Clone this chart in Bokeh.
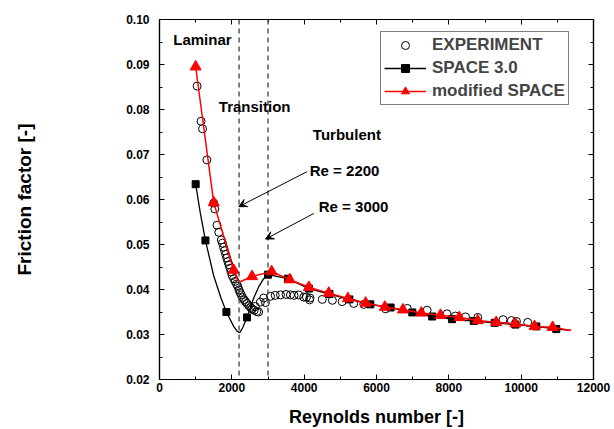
import math
from bokeh.plotting import figure
from bokeh.models import (Range1d, LinearAxis, Span, Arrow, VeeHead, Label, Legend,
                          LegendItem, SingleIntervalTicker, NumeralTickFormatter,
                          CustomJSTickFormatter)
from bokeh.embed import file_html
from bokeh.resources import INLINE

# ---------------- data ----------------
exp_re = [1040, 1150, 1190, 1310, 1500, 1530, 1590, 1640, 1710, 1740, 1770, 1800, 1830,
          1860, 1890, 1920, 1950, 1980, 2010, 2050, 2090, 2130, 2165, 2200, 2230, 2260,
          2300, 2340, 2380, 2420, 2470, 2520, 2560, 2620, 2690, 2740, 2650, 2790, 2930,
          2880, 3070, 3200, 3345, 3500, 3620, 3720, 3850, 3990, 4064, 4160, 4150, 4500,
          4780, 5050, 5370, 5650, 6250, 6850, 7400, 7950, 8180, 8460, 8800, 9500, 9730,
          9870, 10180]
exp_f = [0.0852, 0.0774, 0.0757, 0.0688, 0.0592, 0.0579, 0.0543, 0.0527, 0.0510, 0.0503,
         0.0494, 0.0486, 0.0478, 0.0470, 0.0462, 0.0455, 0.0447, 0.0439, 0.0431, 0.0424,
         0.0418, 0.0412, 0.0407, 0.0399, 0.0393, 0.0388, 0.0382, 0.0377, 0.0373, 0.0369,
         0.0364, 0.0360, 0.0357, 0.0354, 0.0351, 0.0350, 0.0362, 0.0372, 0.0371, 0.0381,
         0.0385, 0.0387, 0.0388, 0.0389, 0.0388, 0.0387, 0.0388, 0.0383, 0.0383, 0.0381,
         0.0377, 0.0378, 0.0376, 0.0373, 0.0369, 0.0367, 0.0357, 0.0358, 0.0354, 0.0346,
         0.0341, 0.0339, 0.0338, 0.0333, 0.0331, 0.0329, 0.0327]

# SPACE 3.0 : markers
sp3_re = [1000, 1270, 1850, 2420, 3000, 3550, 4130, 4700, 5250, 5830, 6390, 6990, 7540,
          8090, 8690, 9270, 9840, 10420, 10970]
sp3_f = [0.0634, 0.0509, 0.0350, 0.0338, 0.0433, 0.0424, 0.0402, 0.0390, 0.0378, 0.0367,
         0.0360, 0.0349, 0.0340, 0.0334, 0.0330, 0.0326, 0.0322, 0.0318, 0.0312]
# SPACE 3.0 : curve
sp3_line_re = [1000, 1130, 1270, 1500, 1700, 1850, 2050, 2150, 2220, 2300, 2420, 2600,
               2750, 2880, 3000, 3550, 4130, 4700, 5250, 5830, 6390, 6990, 7540, 8090,
               8690, 9270, 9840, 10420, 10970, 11380]
sp3_line_f = [0.0634, 0.0569, 0.0509, 0.0430, 0.0381, 0.0350, 0.0318, 0.0307, 0.0304,
              0.0315, 0.0338, 0.0380, 0.0407, 0.0424, 0.0433, 0.0424, 0.0402, 0.0390,
              0.0378, 0.0367, 0.0360, 0.0349, 0.0340, 0.0334, 0.0330, 0.0326, 0.0322,
              0.0318, 0.0312, 0.0309]

# modified SPACE
mod_re = [1000, 1500, 2050, 2560, 3100, 3600, 4130, 4680, 5210, 5700, 6230, 6730, 7240,
          7770, 8290, 8800, 9310, 9840, 10370, 10870]
mod_f = [0.0895, 0.0593, 0.0443, 0.0429, 0.0440, 0.0422, 0.0405, 0.0392, 0.0380, 0.0370,
         0.0361, 0.0355, 0.0348, 0.0343, 0.0338, 0.0331, 0.0327, 0.0324, 0.0318, 0.0316]
mod_line_re = [1000, 1500, 2050, 2200, 2560, 3100, 3600, 4130, 4680, 5210, 5700, 6230,
               6730, 7240, 7770, 8290, 8800, 9310, 9840, 10370, 10870, 11380]
mod_line_f = [0.0895, 0.0593, 0.0443, 0.0416, 0.0429, 0.0440, 0.0422, 0.0405, 0.0392,
              0.0380, 0.0370, 0.0361, 0.0355, 0.0348, 0.0343, 0.0338, 0.0331, 0.0327,
              0.0324, 0.0318, 0.0316, 0.0309]

re_limits = [2200, 3000]
series_names = ["EXPERIMENT", "SPACE 3.0", "modified SPACE"]

FONT = "Liberation Sans"

p = figure(width=614, height=429, x_range=Range1d(0, 12000), y_range=Range1d(0.02, 0.10),
           output_backend="svg", toolbar_location=None,
           min_border_left=159, min_border_right=21, min_border_top=19, min_border_bottom=49)
p.background_fill_color = "white"
p.border_fill_color = "white"
p.outline_line_color = "black"
p.outline_line_width = 1.2
p.xgrid.visible = False
p.ygrid.visible = False

def style_axis(ax):
    ax.axis_line_color = "black"
    ax.axis_line_width = 1.2
    ax.major_tick_in = 5
    ax.major_tick_out = 0
    ax.minor_tick_in = 3
    ax.minor_tick_out = 0
    ax.major_tick_line_color = "black"
    ax.minor_tick_line_color = "black"
    ax.major_label_text_font = FONT
    ax.major_label_text_font_style = "bold"
    ax.major_label_text_font_size = "12px"
    ax.major_label_text_color = "black"
    ax.axis_label_text_font = FONT
    ax.axis_label_text_font_style = "bold"
    ax.axis_label_text_color = "black"

p.xaxis.ticker = SingleIntervalTicker(interval=2000, num_minor_ticks=2)
p.yaxis.ticker = SingleIntervalTicker(interval=0.01, num_minor_ticks=2)
p.yaxis.formatter = NumeralTickFormatter(format="0.00")
style_axis(p.xaxis[0])
style_axis(p.yaxis[0])
p.xaxis.major_label_standoff = 3
p.yaxis.major_label_standoff = 10
p.xaxis.axis_label = "Reynolds number [-]"
p.xaxis.axis_label_text_font_size = "18px"
p.xaxis.axis_label_standoff = 12
p.yaxis.axis_label = "Friction factor [-]"
p.yaxis.axis_label_text_font_size = "19px"
p.yaxis.axis_label_standoff = 88

blank = CustomJSTickFormatter(code="return ''")
top = LinearAxis(ticker=SingleIntervalTicker(interval=2000, num_minor_ticks=2),
                 formatter=blank)
style_axis(top)
top.major_label_standoff = 0
p.add_layout(top, "above")
right = LinearAxis(ticker=SingleIntervalTicker(interval=0.01, num_minor_ticks=2),
                   formatter=blank)
style_axis(right)
right.major_label_standoff = 0
p.add_layout(right, "right")

for r in re_limits:
    p.add_layout(Span(location=r, dimension="height", line_color="#404040",
                      line_dash="5 4", line_width=1.3))

# series
r_exp = p.scatter(exp_re, exp_f, marker="circle", size=8, fill_color=None,
                  line_color="black", line_width=1)
l_sp3 = p.line(sp3_line_re, sp3_line_f, line_color="black", line_width=1.3)
m_sp3 = p.scatter(sp3_re, sp3_f, marker="square", size=7, fill_color="black",
                  line_color="black")
l_mod = p.line(mod_line_re, mod_line_f, line_color="#ff0000", line_width=1.5)
m_mod = p.scatter(mod_re, mod_f, marker="triangle", size=11, fill_color="#ff0000",
                  line_color="#ff0000")

# annotations
def txt(x, y, s):
    p.add_layout(Label(x=x, y=y, text=s, text_align="left", text_baseline="middle",
                       text_font=FONT, text_font_style="bold", text_font_size="15px",
                       text_color="black"))

txt(380, 0.0955, "Laminar")
txt(1640, 0.0806, "Transition")
txt(4240, 0.0745, "Turbulent")
txt(4155, 0.0664, "Re = 2200")
txt(4404, 0.0584, "Re = 3000")

p.add_layout(Arrow(end=VeeHead(size=8, fill_color="black", line_color="black", line_width=1),
                   x_start=4083, y_start=0.0662, x_end=2192, y_end=0.0584,
                   line_color="black", line_width=1))
p.add_layout(Arrow(end=VeeHead(size=8, fill_color="black", line_color="black", line_width=1),
                   x_start=4266, y_start=0.0569, x_end=2931, y_end=0.0512,
                   line_color="black", line_width=1))

legend = Legend(items=[LegendItem(label=series_names[0], renderers=[r_exp]),
                       LegendItem(label=series_names[1], renderers=[l_sp3, m_sp3]),
                       LegendItem(label=series_names[2], renderers=[l_mod, m_mod])],
                location=(221, 274))
legend.label_text_font = FONT
legend.label_text_font_style = "bold"
legend.label_text_font_size = "17px"
legend.label_height = 20
legend.glyph_height = 20
legend.glyph_width = 42
legend.label_standoff = 6
legend.spacing = 3
legend.padding = 3
legend.margin = 0
legend.border_line_color = "black"
legend.border_line_width = 1
legend.background_fill_alpha = 1
p.add_layout(legend, "center")

open("out.html", "w").write(file_html(p, INLINE))
